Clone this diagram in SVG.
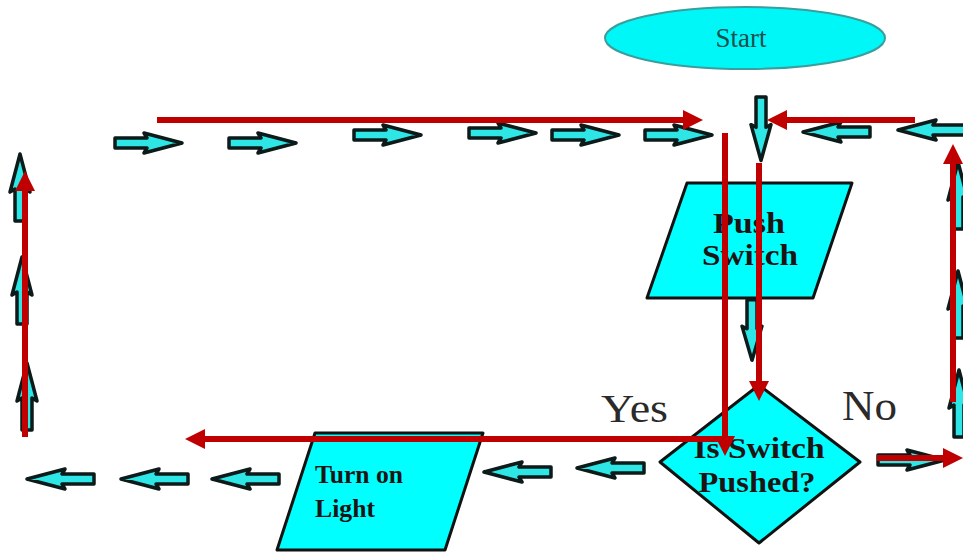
<svg xmlns="http://www.w3.org/2000/svg" xmlns:xlink="http://www.w3.org/1999/xlink" width="963" height="553" viewBox="0 0 963 553">
<style>
.shape{fill:#00ffff;stroke:#111;stroke-width:3;stroke-linejoin:round}
.cy{fill:#2ee6e6;stroke:#0c1a1a;stroke-width:3.5;stroke-linejoin:round}
.lbl{font-family:"Liberation Serif","Times New Roman",serif;font-weight:bold;fill:#1e1414}
.yn{font-family:"Liberation Serif","Times New Roman",serif;fill:#2a2a2a}
.red{stroke:#c00000;stroke-width:6;fill:none}
</style>
<defs>
<path id="ca" class="cy" d="M0,-5 H32 L29,-10 L67,0 L29,10 L32,5 H0 Z"/>
<marker id="rh" viewBox="0 0 20 20" markerWidth="20" markerHeight="20" markerUnits="userSpaceOnUse" refX="1" refY="10" orient="auto">
<path d="M0,0 L20,10 L0,20 Z" fill="#c00000"/>
</marker>
</defs>
<rect width="963" height="553" fill="#fff"/>

<g id="start">
<ellipse cx="745" cy="38" rx="140" ry="31" fill="#00f7f7" stroke="#3a9e9e" stroke-width="2"/>
<text x="741" y="47" text-anchor="middle" font-family="Liberation Serif,serif" font-size="27" fill="#1d4f4f" textLength="51" lengthAdjust="spacingAndGlyphs">Start</text>
</g>

<g id="push-switch">
<polygon class="shape" points="687,183 852,183 813,298 647,298"/>
<text class="lbl" x="749" y="233" text-anchor="middle" font-size="30" textLength="72" lengthAdjust="spacingAndGlyphs">Push</text>
<text class="lbl" x="750" y="265" text-anchor="middle" font-size="30" textLength="96" lengthAdjust="spacingAndGlyphs">Switch</text>
</g>

<g id="decision">
<polygon class="shape" points="759,385 860,462 759,543 660,462"/>
<text class="lbl" x="759" y="458" text-anchor="middle" font-size="30" textLength="131" lengthAdjust="spacingAndGlyphs">Is Switch</text>
<text class="lbl" x="757" y="492" text-anchor="middle" font-size="30" textLength="117" lengthAdjust="spacingAndGlyphs">Pushed?</text>
</g>

<g id="turn-on-light">
<polygon class="shape" points="315,433 483,433 445,550 277,550"/>
<text class="lbl" x="315" y="483" font-size="25" textLength="88" lengthAdjust="spacingAndGlyphs">Turn on</text>
<text class="lbl" x="315" y="517" font-size="25" textLength="60" lengthAdjust="spacingAndGlyphs">Light</text>
</g>

<g id="labels">
<text class="yn" x="601" y="422" font-size="40" textLength="67" lengthAdjust="spacingAndGlyphs">Yes</text>
<text class="yn" x="842" y="420" font-size="42" textLength="55" lengthAdjust="spacingAndGlyphs">No</text>
</g>

<g id="connectors">
<use xlink:href="#ca" transform="translate(115,143)"/>
<use xlink:href="#ca" transform="translate(229,143)"/>
<use xlink:href="#ca" transform="translate(354,135)"/>
<use xlink:href="#ca" transform="translate(469,133)"/>
<use xlink:href="#ca" transform="translate(552,135)"/>
<use xlink:href="#ca" transform="translate(645,135)"/>
<use xlink:href="#ca" transform="translate(870,132) rotate(180)"/>
<use xlink:href="#ca" transform="translate(965,130) rotate(180)"/>
<use xlink:href="#ca" transform="translate(761,97) rotate(90) scale(0.95,1)"/>
<use xlink:href="#ca" transform="translate(752,300) rotate(90) scale(0.9,1)"/>
<use xlink:href="#ca" transform="translate(20,221) rotate(-90)"/>
<use xlink:href="#ca" transform="translate(22,324) rotate(-90)"/>
<use xlink:href="#ca" transform="translate(27,430) rotate(-90)"/>
<use xlink:href="#ca" transform="translate(958,229) rotate(-90)"/>
<use xlink:href="#ca" transform="translate(958,338) rotate(-90)"/>
<use xlink:href="#ca" transform="translate(959,437) rotate(-90)"/>
<use xlink:href="#ca" transform="translate(94,479) rotate(180)"/>
<use xlink:href="#ca" transform="translate(188,479) rotate(180)"/>
<use xlink:href="#ca" transform="translate(279,479) rotate(180)"/>
<use xlink:href="#ca" transform="translate(551,472) rotate(180)"/>
<use xlink:href="#ca" transform="translate(644,468) rotate(180)"/>
<use xlink:href="#ca" transform="translate(878,460)"/>

<path class="red" d="M157,120 H684" marker-end="url(#rh)"/>
<path class="red" d="M915,120 H786" marker-end="url(#rh)"/>
<path class="red" d="M725,133 V437" marker-end="url(#rh)"/>
<path class="red" d="M759,163 V382" marker-end="url(#rh)"/>
<path class="red" d="M728,439 H204" marker-end="url(#rh)"/>
<path class="red" d="M25,437 V190" marker-end="url(#rh)"/>
<path class="red" d="M953,402 V163" marker-end="url(#rh)"/>
<path class="red" d="M877,458 H944" marker-end="url(#rh)"/>
</g>
</svg>
